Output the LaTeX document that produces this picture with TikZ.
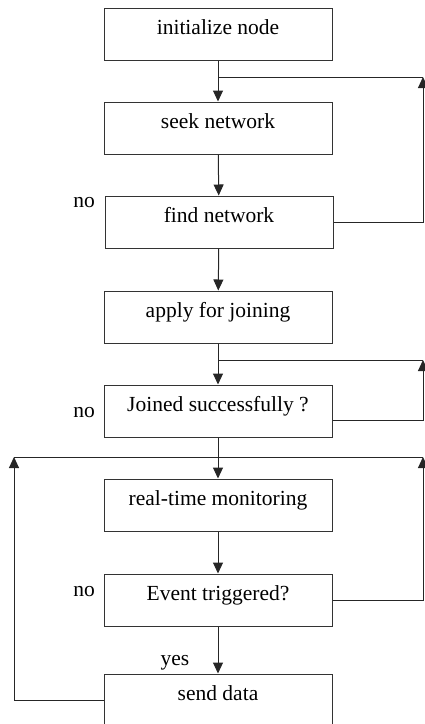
\documentclass[tikz,border=0pt]{standalone}
\usepackage{fontspec}
\setmainfont{Liberation Serif}
\usetikzlibrary{arrows.meta}
\begin{document}
\begin{tikzpicture}[x=1pt,y=-1pt,
    box/.style={draw=black!80,line width=1pt,minimum width=228pt,minimum height=52pt,
      text height=12pt,text depth=12pt,inner sep=0pt,font=\fontsize{21.5}{26}\selectfont},
    flow/.style={draw=black!85,line width=1pt,-{Triangle[width=10pt,length=11pt]}},
    wire/.style={draw=black!85,line width=1pt},
    lbl/.style={anchor=base,font=\fontsize{21.5}{26}\selectfont}]
        \useasboundingbox (0,0) rectangle (425,724);
        % steps
        \node[box] (init) at (218,34) {initialize node};
        \node[box] (seek) at (218,128) {seek network};
        \node[box] (find) at (219,222) {find network};
        \node[box] (apply) at (218,317) {apply for joining};
        \node[box] (joined) at (218,411) {Joined successfully ?};
        \node[box] (monitor) at (218,505) {real-time monitoring};
        \node[box] (event) at (218,600) {Event triggered?};
        \node[box] (send) at (218,700) {send data};
        % labels
        \node[lbl] (no1) at (84,207) {no};
        \node[lbl] (no2) at (84,417) {no};
        \node[lbl] (no3) at (84,596) {no};
        \node[lbl] (yes) at (175,665) {yes};
        % loop corners
        \coordinate (top1) at (218,77);
        \coordinate (top2) at (218,360);
        \coordinate (top3) at (218,457);
        \coordinate (back1) at (423,77);
        \coordinate (back2) at (423,360);
        \coordinate (back3) at (423,457);
        \coordinate (back4) at (14,457);
        % main flow
        \draw[flow] (init) -- (seek);
        \draw[flow] (seek) -- (find);
        \draw[flow] (find) -- (apply);
        \draw[flow] (apply) -- (joined);
        \draw[flow] (joined) -- (monitor);
        \draw[flow] (monitor) -- (event);
        \draw[flow] (event) -- (send);
        % loops back
        \draw[flow] (find.east) -| (back1);
        \draw[wire] (top1) -- (back1);
        \draw[flow] ([yshift=-9pt]joined.east) -| (back2);
        \draw[wire] (top2) -- (back2);
        \draw[flow] (event.east) -| (back3);
        \draw[flow] (send.west) -| (back4);
        \draw[wire] (back4) -- (back3);
    \end{tikzpicture}
\end{document}
